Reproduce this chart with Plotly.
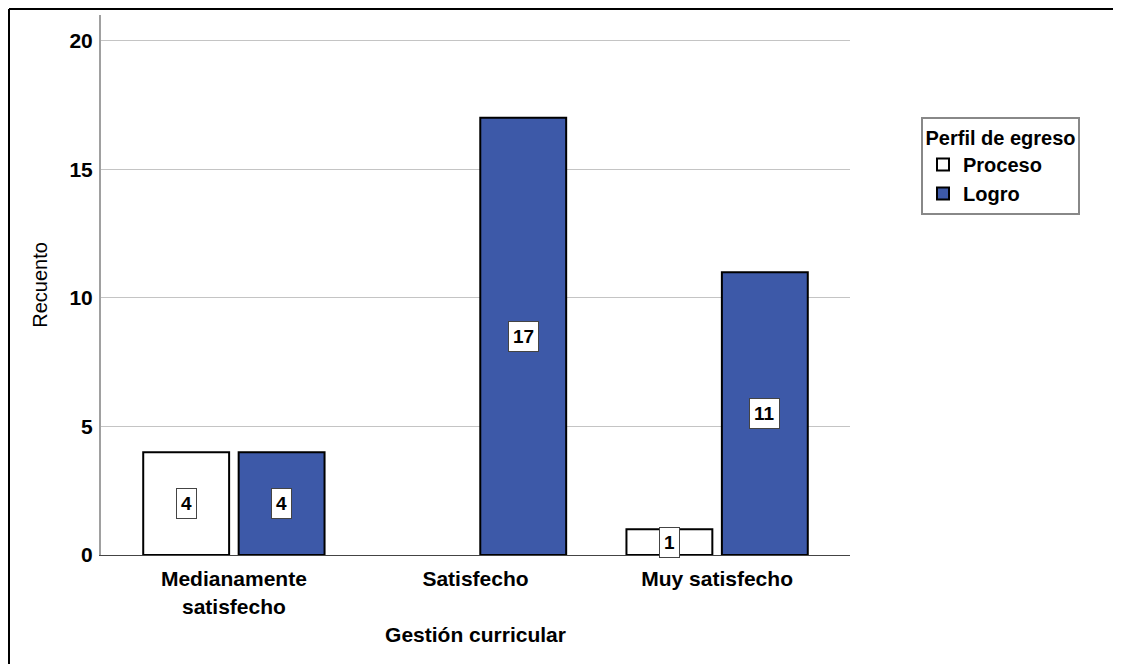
import plotly.graph_objects as go

categories = ["Medianamente<br>satisfecho", "Satisfecho", "Muy satisfecho"]
proceso = [4, 0, 1]
logro = [4, 17, 11]
series_names = ["Proceso", "Logro"]
y_ticks = [0, 5, 10, 15, 20]

BLUE = "#3d59a8"
FONT = "Liberation Sans, Arial, sans-serif"

fig = go.Figure()
fig.add_trace(go.Bar(name=series_names[0], x=categories, y=[v if v > 0 else None for v in proceso],
                     marker=dict(color="white", line=dict(color="black", width=2)),
                     hoverinfo="x+y"))
fig.add_trace(go.Bar(name=series_names[1], x=categories, y=logro,
                     marker=dict(color=BLUE, line=dict(color="black", width=2)),
                     hoverinfo="x+y"))

# value labels in white boxes
slot_shift = 47.5
for vals, sh in ((proceso, -slot_shift), (logro, slot_shift)):
    for c, v in zip(categories, vals):
        if v > 0:
            fig.add_annotation(x=c, y=v / 2, text="<b>%d</b>" % v, showarrow=False,
                               xshift=sh, bgcolor="white", bordercolor="#444444",
                               borderwidth=1, borderpad=4,
                               font=dict(family=FONT, size=19, color="black"))

# page body has an 8px margin, so the figure starts at (8, 8)
W, H = 1113, 656
L, R, T, B = 93, 271, 7, 109
pw, ph = W - L - R, H - T - B
bx = (1 - L) / pw
by = 1 + (T - 1) / ph
fig.add_shape(type="line", xref="paper", yref="paper", x0=bx, x1=bx, y0=by, y1=-0.5,
              line=dict(color="black", width=2))
fig.add_shape(type="line", xref="paper", yref="paper", x0=bx, x1=1.5, y0=by, y1=by,
              line=dict(color="black", width=2))

fig.update_layout(
    width=W, height=H,
    margin=dict(l=L, r=R, t=T, b=B, autoexpand=False),
    paper_bgcolor="white", plot_bgcolor="white",
    barmode="group", bargap=0.21, bargroupgap=0.1,
    font=dict(family=FONT, size=21, color="black"),
    xaxis=dict(range=[-0.55, 2.55], showline=True, linecolor="#444444", linewidth=1,
               ticks="", ticklabelstandoff=5, tickfont=dict(size=21, weight="bold"),
               title=dict(text="<b>Gestión curricular</b>", font=dict(size=21), standoff=10)),
    yaxis=dict(range=[0, 21], tickvals=y_ticks, showgrid=True, gridcolor="#c4c4c4", gridwidth=1,
               showline=True, linecolor="#a0a0a0", linewidth=2, zeroline=False,
               ticks="", ticklabelstandoff=2, tickfont=dict(size=21, weight="bold"),
               title=dict(text="Recuento", font=dict(size=20), standoff=16)),
    legend=dict(x=(913 - L) / pw, y=1 - (109 - T) / ph, xanchor="left", yanchor="top",
                bgcolor="white", bordercolor="#888888", borderwidth=2,
                title=dict(text="<b>Perfil de egreso</b>", side="top center", font=dict(size=20)),
                font=dict(size=20, weight="bold"), itemwidth=30, tracegroupgap=0),
    showlegend=True,
)

fig.write_html("out.html")
